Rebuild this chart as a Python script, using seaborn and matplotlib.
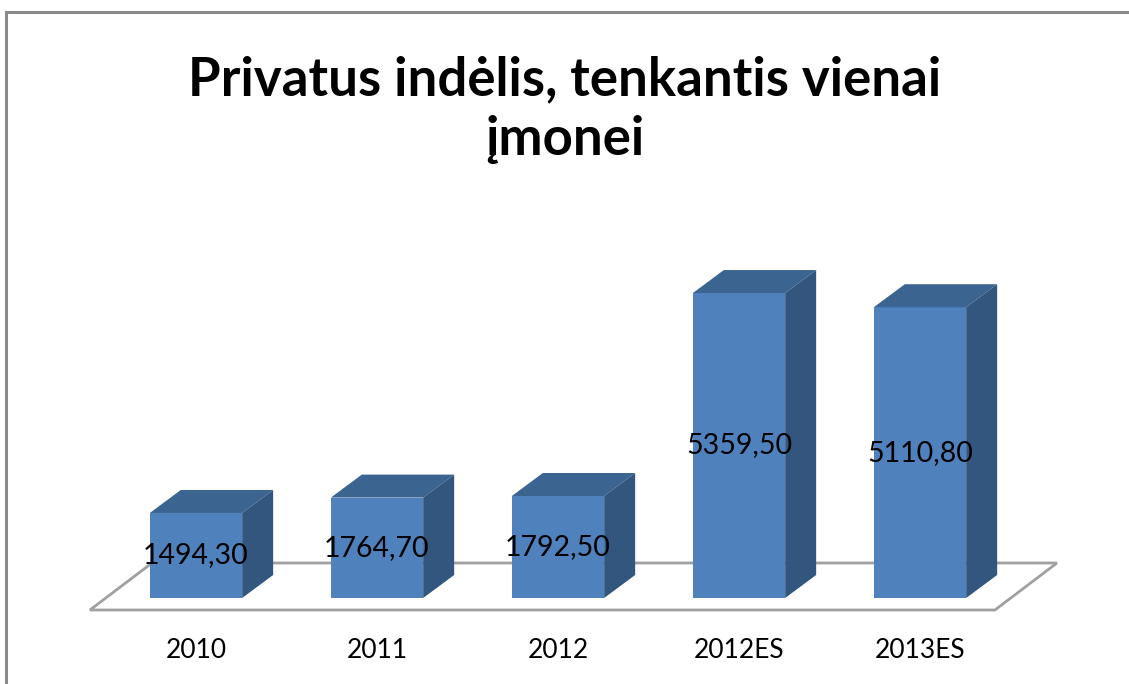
import matplotlib
matplotlib.use("Agg")
import matplotlib.pyplot as plt
import seaborn as sns
import pandas as pd
from matplotlib.patches import Polygon, Rectangle

# duomenys
kategorijos = ["2010", "2011", "2012", "2012ES", "2013ES"]
reiksmes = [1494.30, 1764.70, 1792.50, 5359.50, 5110.80]
etiketes = ["1494,30", "1764,70", "1792,50", "5359,50", "5110,80"]

df = pd.DataFrame({"metai": kategorijos, "indelis": reiksmes})

sns.set_style("white")
plt.rcParams["font.family"] = ["Lato", "DejaVu Sans"]
plt.rcParams["text.color"] = "black"

W, H = 1129, 684
fig = plt.figure(figsize=(W / 100, H / 100), dpi=100)

# asys: x centrai 196 + 181*i px, y nulis ties 598 px, 0.0569 px / vnt.
px_x, px_y = 181.0, 0.0569
xmin, xmax = -1.0, 5.0
ymin, ymax = -600, 8000
left = 196 + xmin * px_x
bottom = (H - 598) + ymin * px_y
ax = fig.add_axes([left / W, bottom / H, (xmax - xmin) * px_x / W, (ymax - ymin) * px_y / H])

front = "#4F81BD"
top_c = "#3C6491"
side_c = "#33567F"
bw = 0.51

sns.barplot(data=df, x="metai", y="indelis", color=front, width=bw,
            saturation=1, ax=ax, zorder=3, edgecolor="none")
ax.set_xlim(xmin, xmax)
ax.set_ylim(ymin, ymax)

# 3D gylis
dx = 31 / px_x
dy = 23 / px_y

# grindys
floor = Polygon([(-0.586, -12 / px_y), (4.414, -12 / px_y),
                 (4.414 + 62 / px_x, 35 / px_y), (-0.586 + 62 / px_x, 35 / px_y)],
                closed=True, facecolor="white", edgecolor="#A0A0A0", lw=2, zorder=1)
ax.add_patch(floor)

for i, v in enumerate(reiksmes):
    x0, x1 = i - bw / 2, i + bw / 2
    ax.add_patch(Polygon([(x0, v), (x1, v), (x1 + dx, v + dy), (x0 + dx, v + dy)],
                         closed=True, facecolor=top_c, edgecolor="none", zorder=3))
    ax.add_patch(Polygon([(x1, 0), (x1 + dx, dy), (x1 + dx, v + dy), (x1, v)],
                         closed=True, facecolor=side_c, edgecolor="none", zorder=3))
    ax.text(i, v / 2, etiketes[i], ha="center", va="center", fontsize=20.5,
            color="black", zorder=5)

ax.set_xlabel("")
ax.set_ylabel("")
ax.set_xticks([])
ax.set_yticks([])
for s in ax.spines.values():
    s.set_visible(False)
ax.patch.set_alpha(0)

for i, k in enumerate(kategorijos):
    fig.text((196 + i * px_x) / W, 1 - 650 / H, k, ha="center", va="center", fontsize=19)

fig.text(0.5, 1 - 80 / H, "Privatus indėlis, tenkantis vienai", ha="center", va="center",
         fontsize=38, fontweight="bold")
fig.text(0.5, 1 - 140 / H, "įmonei", ha="center", va="center",
         fontsize=38, fontweight="bold")

# rėmelis
fig.patches.append(Rectangle((6 / W, -0.1), 1.2, 1 - 12 / H + 0.1, transform=fig.transFigure,
                             facecolor="none", edgecolor="#8A8A8A", lw=2.2))

fig.savefig("out.png", dpi=100)
